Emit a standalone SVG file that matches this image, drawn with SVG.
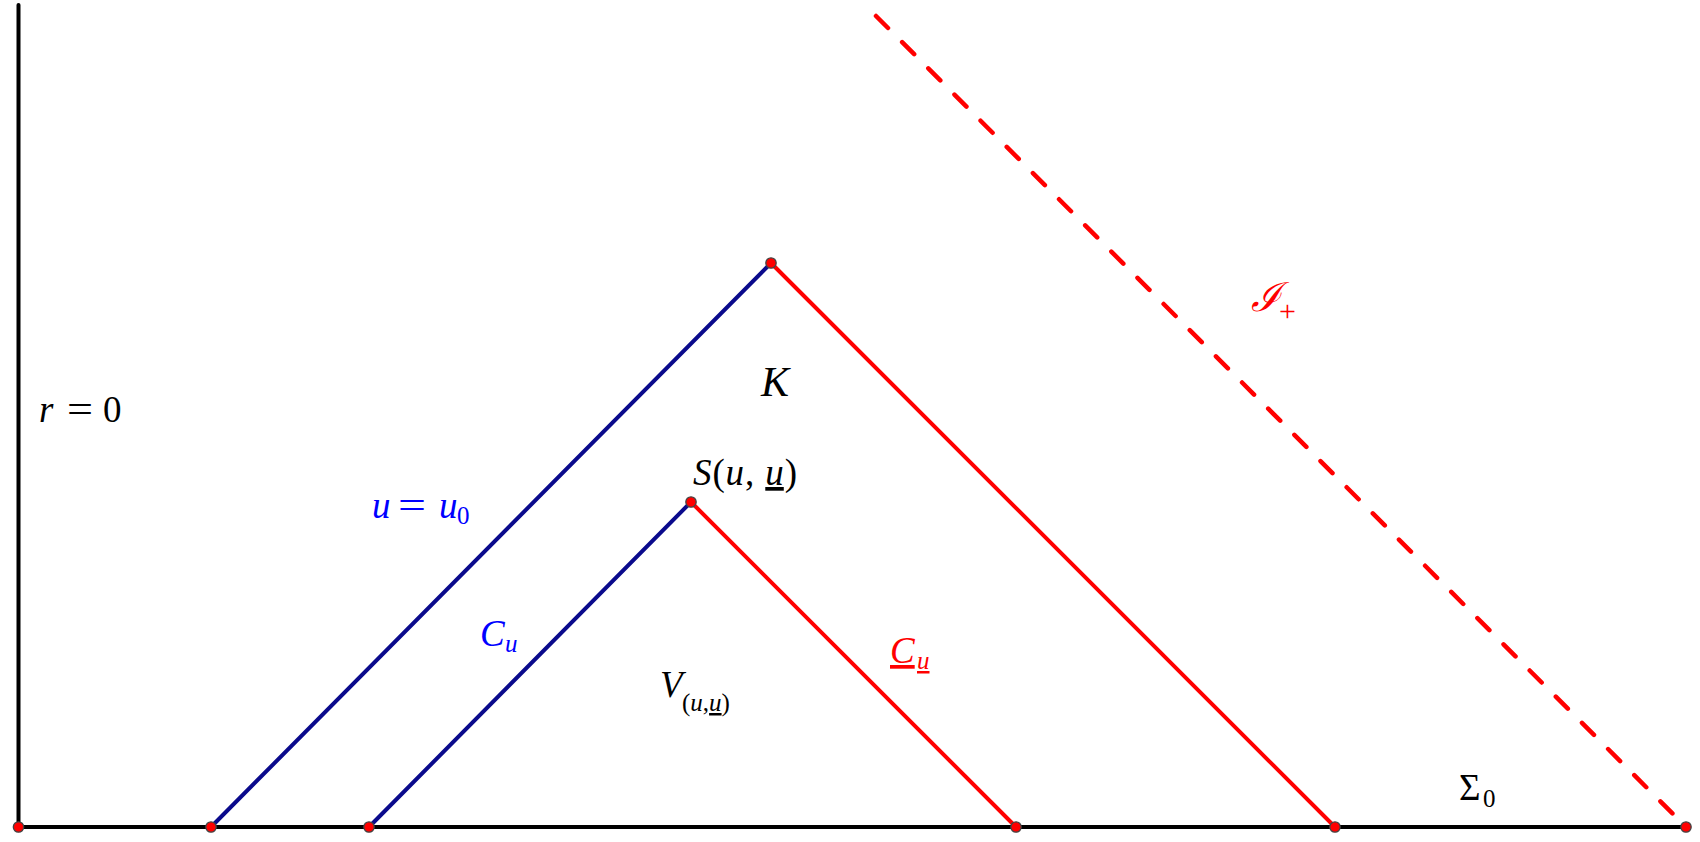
<svg xmlns="http://www.w3.org/2000/svg" width="1700" height="842" viewBox="0 0 1700 842">
<style>
.ax{stroke:#000;stroke-width:4;fill:none;stroke-linecap:round}
.bl{stroke:#0a0a8c;stroke-width:4;fill:none;stroke-linecap:round}
.rd{stroke:#ff0000;stroke-width:4;fill:none;stroke-linecap:round}
.ds{stroke:#ff0000;stroke-width:4.5;fill:none;stroke-linecap:round;stroke-dasharray:17 20}
.pt{fill:#ff0000;stroke:#444;stroke-width:1.3}
text{font-family:"Liberation Serif","DejaVu Serif",serif;font-size:37px;fill:#000}
.it{font-style:italic}
.sub{font-size:25px}
.blue{fill:#0000ff}
.red{fill:#ff0000}
</style>
<rect width="1700" height="842" fill="#fff"/>
<g id="connectors">
<line class="ax" x1="18.5" y1="5" x2="18.5" y2="827"/>
<line class="ax" x1="18.5" y1="827" x2="1686" y2="827"/>
<line class="bl" x1="211" y1="827" x2="771" y2="263"/>
<line class="rd" x1="771" y1="263" x2="1335" y2="827"/>
<line class="bl" x1="369" y1="827" x2="691" y2="502"/>
<line class="rd" x1="691" y1="502" x2="1016" y2="827"/>
<line class="ds" x1="876" y1="16" x2="1686" y2="827"/>
</g>
<g id="points">
<circle class="pt" cx="18.5" cy="827" r="5.2"/>
<circle class="pt" cx="211" cy="827" r="5.2"/>
<circle class="pt" cx="369" cy="827" r="5.2"/>
<circle class="pt" cx="1016" cy="827" r="5.2"/>
<circle class="pt" cx="1335" cy="827" r="5.2"/>
<circle class="pt" cx="1686" cy="827" r="5.2"/>
<circle class="pt" cx="771" cy="263" r="5.2"/>
<circle class="pt" cx="691" cy="502" r="5.2"/>
</g>
<g id="label-r0"><text x="39" y="422"><tspan class="it">r</tspan><tspan x="67" textLength="26" lengthAdjust="spacingAndGlyphs">=</tspan><tspan x="103">0</tspan></text></g>
<g id="label-K"><text class="it" x="761" y="396" style="font-size:42px">K</text></g>
<g id="label-S"><text x="693" y="485" textLength="104"><tspan class="it">S</tspan><tspan>(</tspan><tspan class="it">u</tspan><tspan>, </tspan><tspan class="it" text-decoration="underline">u</tspan><tspan>)</tspan></text></g>
<g id="label-u0"><text class="blue" x="372" y="518"><tspan class="it">u</tspan><tspan x="398" textLength="28" lengthAdjust="spacingAndGlyphs">=</tspan><tspan class="it" x="439">u</tspan><tspan class="sub" x="457" y="524">0</tspan></text></g>
<g id="label-Cu"><text class="blue" x="480" y="646"><tspan class="it">C</tspan><tspan class="it sub" x="505" y="652">u</tspan></text></g>
<g id="label-V"><text x="660" y="697"><tspan class="it">V</tspan><tspan class="sub" x="682" y="711">(<tspan class="it">u</tspan>,<tspan class="it" text-decoration="underline">u</tspan>)</tspan></text></g>
<g id="label-Cbar"><text class="red" x="890" y="663"><tspan class="it" text-decoration="underline">C</tspan><tspan class="it sub" x="917" y="669" text-decoration="underline">u</tspan></text></g>
<g id="label-scri"><text class="red it" x="1251" y="311" style="font-size:40px">ℐ<tspan class="sub" style="font-style:normal;font-size:30px" x="1279" y="321">+</tspan></text></g>
<g id="label-Sigma"><text x="1459" y="800">Σ<tspan class="sub" x="1483" y="807">0</tspan></text></g>
</svg>
